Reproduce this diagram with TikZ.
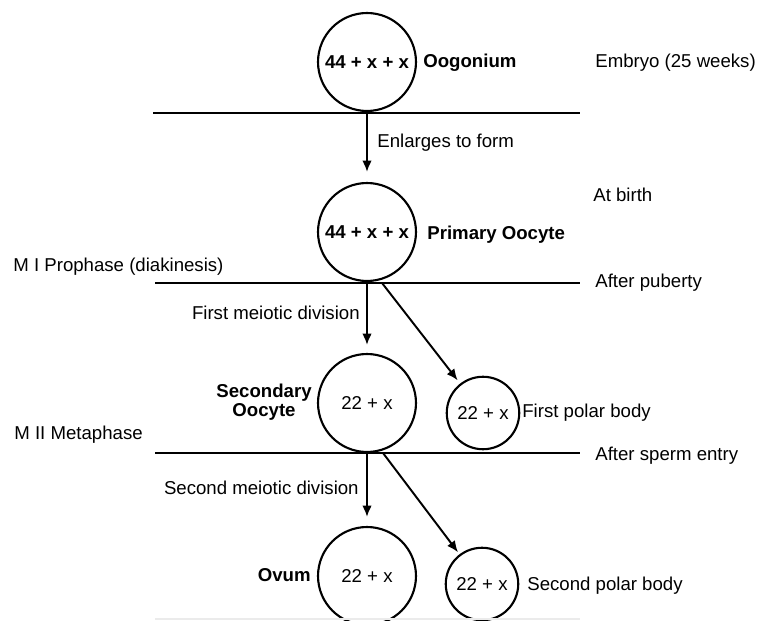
\documentclass[tikz,border=0pt]{standalone}
\usepackage{fontspec}
\setmainfont{Liberation Sans}
\usetikzlibrary{arrows.meta}

\begin{document}
\begin{tikzpicture}[x=0.02cm, y=-0.02cm,
    font=\fontsize{10.6}{11}\selectfont,
    cell/.style={circle, draw, line width=1.2pt, minimum size=1.96cm, inner sep=0pt},
    polar/.style={circle, draw, line width=1.2pt, minimum size=1.45cm, inner sep=0pt},
    rule/.style={line width=1.5pt},
    arr/.style={line width=1.1pt, -{Latex[length=6.5pt,width=5.5pt]}},
    lab/.style={inner sep=0pt}]
    \useasboundingbox (0,0) rectangle (761,621);

    % cells
    \node [cell] (oog) at (367,62) {\bfseries 44 + x + x};
    \node [cell] (pri) at (367,232) {\bfseries 44 + x + x};
    \node [cell] (sec) at (367,403) {22 + x};
    \node [polar] (pb1) at (483,413) {22 + x};
    \node [cell] (ovum) at (367,576) {22 + x};
    \node [polar] (pb2) at (482,584) {22 + x};

    % rules
    \coordinate (r1a) at (153,113);
    \coordinate (r1b) at (580,113);
    \coordinate (r2a) at (155,283);
    \coordinate (r2b) at (580,283);
    \coordinate (r3a) at (155,453);
    \coordinate (r3b) at (580,453);
    \coordinate (r4a) at (155,619);
    \coordinate (r4b) at (580,619);
    \draw[rule] (r1a) -- (r1b);
    \draw[rule] (r2a) -- (r2b);
    \draw[rule] (r3a) -- (r3b);
    \draw[line width=1pt, black!8] (r4a) -- (r4b);

    % arrows
    \coordinate (s1) at (367,113);
    \coordinate (s2) at (367,283);
    \coordinate (d2) at (382,283);
    \coordinate (s3) at (367,453);
    \coordinate (d3) at (383,453);
    \draw[arr, shorten >=0.2cm] (s1) -- (pri);
    \draw[arr, shorten >=0.16cm] (s2) -- (sec);
    \draw[arr, shorten >=0.08cm] (d2) -- (pb1);
    \draw[arr, shorten >=0.18cm] (s3) -- (ovum);
    \draw[arr, shorten >=0.05cm] (d3) -- (pb2);

    % labels
    \node [lab, anchor=west] (oogname) at (423,63) {\bfseries Oogonium};
    \node [lab, anchor=west] (embryo) at (595,63) {Embryo (25 weeks)};
    \node [lab, anchor=west] (enlarge) at (377,143) {Enlarges to form};
    \node [lab, anchor=west] (birth) at (593,195) {At birth};
    \node [lab, anchor=west] (priname) at (427,235) {\bfseries Primary Oocyte};
    \node [lab, anchor=west] (mone) at (13,267) {M I Prophase (diakinesis)};
    \node [lab, anchor=west] (puberty) at (595,283) {After puberty};
    \node [lab, anchor=east] (firstdiv) at (360,313) {First meiotic division};
    \node [lab, anchor=east, align=center] (secname) at (312,402) {\bfseries Secondary\\\bfseries Oocyte};
    \node [lab, anchor=west] (pb1name) at (522,413) {First polar body};
    \node [lab, anchor=west] (mtwo) at (14,435) {M II Metaphase};
    \node [lab, anchor=west] (sperm) at (595,456) {After sperm entry};
    \node [lab, anchor=east] (seconddiv) at (359,488) {Second meiotic division};
    \node [lab, anchor=east] (ovumname) at (311,575) {\bfseries Ovum};
    \node [lab, anchor=west] (pb2name) at (527,586) {Second polar body};
\end{tikzpicture}
\end{document}
